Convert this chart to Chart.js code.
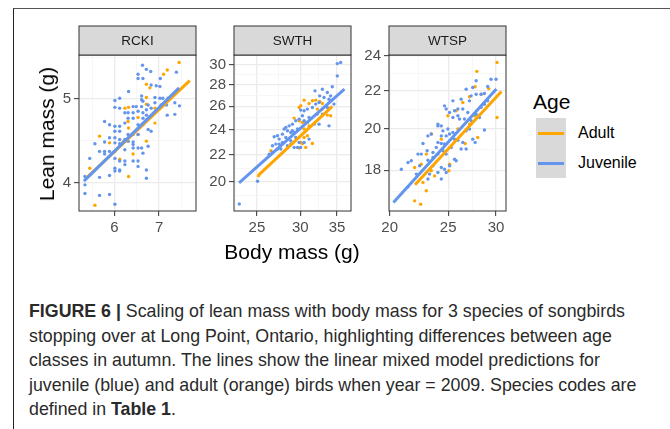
<!DOCTYPE html>
<html>
<head>
<meta charset="utf-8">
<script src="https://cdn.jsdelivr.net/npm/chart.js@4.4.1/dist/chart.umd.min.js"></script>
<style>
  body { margin: 0; background: #fff; font-family: "Liberation Sans", Arial, sans-serif; }
  #page { position: relative; width: 670px; height: 429px; overflow: hidden; }
  #frame { position: absolute; left: 13px; top: 8px; width: 700px; height: 460px;
           border-top: 1.5px solid #555; border-left: 1.5px solid #222; }
  canvas { position: absolute; top: 20px; }
  .lbl { position: absolute; white-space: nowrap; color: #000; }
  #ylab { left: 47px; top: 134px; font-size: 21px; transform: translate(-50%, -50%) rotate(-90deg); }
  #xlab { left: 292px; top: 252px; font-size: 21px; transform: translate(-50%, -50%); }
  #legTitle { left: 533px; top: 102px; font-size: 21px; transform: translateY(-50%); }
  .legItem { left: 578px; font-size: 16px; transform: translateY(-50%); }
  #legBox { position: absolute; left: 536px; top: 118px; width: 30px; height: 60px; background: #d9d9d9; }
  .legLine { position: absolute; left: 538px; width: 26px; height: 3px; }
  #caption { position: absolute; left: 29px; top: 299px; font-size: 17.8px; line-height: 24.5px;
             color: #2a2a2a; white-space: nowrap; }
</style>
</head>
<body>
<div id="page">
  <div id="frame"></div>
  <canvas id="c1" width="169" height="225" style="left:39px"></canvas>
  <canvas id="c2" width="169" height="225" style="left:194px"></canvas>
  <canvas id="c3" width="169" height="225" style="left:349px"></canvas>
  <div class="lbl" id="ylab">Lean mass (g)</div>
  <div class="lbl" id="xlab">Body mass (g)</div>
  <div class="lbl" id="legTitle">Age</div>
  <div id="legBox"></div>
  <div class="legLine" style="top:131.5px;background:#FFA500"></div>
  <div class="legLine" style="top:161.5px;background:#6495ED"></div>
  <div class="lbl legItem" style="top:133px">Adult</div>
  <div class="lbl legItem" style="top:163px">Juvenile</div>
  <div id="caption"><b>FIGURE 6 |</b> Scaling of lean mass with body mass for 3 species of songbirds<br>stopping over at Long Point, Ontario, highlighting differences between age<br>classes in autumn. The lines show the linear mixed model predictions for<br>juvenile (blue) and adult (orange) birds when year = 2009. Species codes are<br>defined in <b>Table 1</b>.</div>
</div>
<script>
// species panels
const species = ['RCKI', 'SWTH', 'WTSP'];

// RCKI: [body mass, lean mass]
const rckiJuvenile = [
  [6.61,5.47],[6.70,5.41],[6.80,5.38],[6.51,5.34],[6.51,5.28],[7.03,5.28],[7.43,5.37],[6.62,5.28],
  [6.81,5.19],[6.93,5.18],[7.02,5.17],[6.30,5.10],[6.11,5.01],[6.01,4.98],[6.59,5.04],[6.59,4.99],
  [6.62,4.97],[6.90,5.02],[7.02,5.01],[7.09,5.01],[7.22,5.01],[6.74,4.92],[6.90,4.95],[6.01,4.89],
  [6.11,4.88],[6.40,4.90],[6.47,4.90],[6.59,4.90],[6.70,4.86],[6.81,4.88],[7.05,4.92],[7.18,4.92],
  [7.39,4.95],[7.51,4.91],[7.39,4.80],[7.20,4.79],[6.51,4.84],[6.40,4.82],[6.29,4.82],[6.22,4.82],
  [6.62,4.82],[6.70,4.79],[6.78,4.77],[6.40,4.75],[6.29,4.75],[6.62,4.75],[6.70,4.73],[5.80,4.71],
  [5.90,4.67],[6.01,4.65],[6.11,4.65],[6.22,4.69],[6.51,4.67],[6.62,4.67],[6.01,4.59],[6.11,4.59],
  [6.29,4.55],[6.40,4.55],[6.51,4.55],[6.74,4.61],[6.81,4.59],[5.90,4.51],[6.01,4.51],[6.11,4.49],
  [6.22,4.49],[6.29,4.47],[6.40,4.46],[5.80,4.46],[6.01,4.45],[6.11,4.44],[5.61,4.44],[5.70,4.35],
  [5.80,4.35],[5.90,4.35],[6.01,4.35],[5.80,4.32],[6.22,4.37],[6.40,4.43],[6.40,4.39],[6.51,4.39],
  [6.59,4.39],[6.62,4.33],[6.74,4.41],[5.51,4.27],[6.01,4.27],[6.11,4.24],[6.22,4.24],[6.40,4.24],
  [6.51,4.24],[6.22,4.20],[6.51,4.18],[6.01,4.16],[6.11,4.14],[6.01,4.13],[6.11,4.13],[6.70,4.14],
  [5.70,4.06],[5.90,4.08],[5.42,4.07],[6.70,4.05],[5.42,3.98],[5.42,3.89],[5.70,3.87],[5.90,3.88],
  [6.01,3.78]
];
const rckiAdult = [
  [7.50,5.51],[7.20,5.40],[7.11,5.34],[6.70,5.20],[6.78,5.15],[6.70,5.02],[6.70,4.93],[6.30,4.89],
  [6.22,4.88],[6.90,4.88],[6.51,4.76],[6.29,4.71],[6.30,4.63],[6.90,4.69],[5.70,4.53],[6.51,4.55],
  [6.70,4.47],[6.29,4.47],[6.18,4.46],[5.90,4.45],[6.40,4.32],[6.11,4.26],[5.51,4.16],[6.30,4.07],
  [5.61,3.77]
];
const rckiJuvenileFit = [[5.40,4.02],[7.50,5.15]];
const rckiAdultFit = [[5.46,4.06],[7.78,5.25]];

// SWTH
const swthJuvenile = [
  [35.04,30.15],[35.53,30.26],[35.04,28.89],[34.31,27.82],[31.91,27.43],[32.91,27.59],[33.60,27.28],
  [32.54,26.96],[33.14,26.81],[34.07,26.96],[33.84,26.65],[34.55,26.20],[32.00,26.20],[31.56,25.90],
  [30.90,25.75],[30.48,25.60],[30.05,25.66],[30.26,25.16],[29.85,24.87],[29.43,24.73],[30.48,24.73],
  [30.90,24.59],[31.78,24.44],[32.45,24.44],[33.84,24.30],[32.22,25.31],[32.91,25.31],[29.02,24.44],
  [28.62,24.30],[28.23,24.17],[28.03,24.03],[28.42,23.89],[28.82,23.75],[29.23,23.75],[27.83,23.61],
  [27.26,23.48],[26.88,23.40],[27.45,23.21],[29.43,23.34],[29.85,22.94],[30.48,22.94],[31.12,23.21],
  [28.82,23.07],[28.82,22.81],[28.42,22.68],[29.23,22.55],[29.64,22.55],[30.05,22.55],[27.07,22.81],
  [26.69,22.68],[27.26,22.42],[27.64,22.42],[26.32,22.03],[26.69,22.16],[25.07,20.05],[23.22,18.53],
  [29.02,23.89],[29.64,24.03],[28.23,23.34],[27.83,22.94],[27.45,22.81],[31.12,25.02],[33.60,25.90],
  [32.45,26.35]
];
const swthAdult = [
  [30.48,26.56],[31.12,26.26],[31.56,26.50],[32.00,26.56],[32.54,26.44],[32.91,26.26],[30.05,26.05],
  [29.85,25.90],[29.23,24.96],[29.85,24.73],[30.26,24.59],[30.69,24.59],[31.12,24.30],[30.48,24.03],
  [30.90,23.48],[30.48,23.34],[30.05,22.94],[30.26,22.86],[31.56,22.86],[30.69,22.55],[29.85,22.50],
  [33.60,25.22],[34.07,25.16],[26.51,22.29],[25.17,20.44],[32.91,25.75],[32.22,25.75]
];
const swthJuvenileFit = [[23.2,19.95],[36.1,27.6]];
const swthAdultFit = [[25.2,20.5],[34.3,26.0]];

// WTSP
const wtspJuvenile = [
  [29.43,22.64],[30.00,22.64],[27.81,22.55],[29.06,22.23],[26.77,22.08],[27.45,22.17],[27.81,21.80],
  [28.34,21.80],[28.70,21.84],[27.28,21.71],[26.26,21.53],[27.11,21.44],[25.45,21.44],[24.65,21.17],
  [24.81,21.00],[25.13,20.82],[25.61,20.91],[25.94,21.00],[26.43,21.00],[26.94,20.82],[25.94,20.65],
  [25.45,20.56],[26.10,20.48],[24.04,20.22],[24.04,20.13],[24.35,20.13],[24.50,19.88],[24.97,19.97],
  [23.44,19.72],[23.14,19.63],[24.35,19.63],[24.81,19.63],[25.13,19.72],[25.45,19.80],[22.71,19.26],
  [24.04,19.31],[24.35,19.26],[24.65,19.23],[25.61,19.47],[25.94,19.42],[26.43,19.31],[27.45,19.47],
  [27.70,19.31],[28.70,19.92],[27.81,20.73],[28.16,20.56],[27.11,19.97],[26.77,18.99],[22.28,18.75],
  [22.56,18.75],[23.07,18.91],[21.45,18.36],[21.72,18.44],[20.91,18.05],[22.42,18.21],[23.14,18.46],
  [23.59,18.59],[24.04,18.75],[24.50,18.91],[24.81,18.75],[25.61,18.51],[25.77,18.44],[25.13,18.21],
  [24.35,18.13],[24.65,18.05],[24.81,17.90],[23.29,17.83],[23.14,17.61],[24.04,17.90],[24.35,17.61],
  [23.59,18.21],[22.14,17.83],[21.45,17.27],[23.89,19.07],[23.59,18.83],[25.29,19.07],[26.26,18.99],
  [26.77,19.88],[27.28,20.39],[26.60,20.48],[28.34,21.09],[28.70,21.26],[29.06,21.44]
];
const wtspAdult = [
  [27.88,23.09],[30.11,23.61],[27.70,22.21],[29.17,22.11],[27.11,21.66],[28.34,21.80],[26.43,21.35],
  [25.77,20.91],[24.97,20.65],[27.63,20.65],[27.11,20.22],[25.94,19.97],[23.44,19.72],[24.35,19.47],
  [26.67,19.26],[27.98,19.55],[23.00,18.75],[22.56,18.28],[22.00,18.13],[23.44,17.98],[22.71,17.46],
  [23.00,17.10],[22.00,16.67],[22.51,16.53],[30.11,20.56],[25.06,17.98],[25.13,18.28],[23.73,17.75]
];
const wtspJuvenileFit = [[20.29,16.60],[30.04,22.09]];
const wtspAdultFit = [[22.03,17.36],[30.62,21.95]];

// tick labels
const rckiXTicks = [6, 7];
const rckiYTicks = [4, 5];
const swthXTicks = [25, 30, 35];
const swthYTicks = [20, 22, 24, 26, 28, 30];
const wtspXTicks = [20, 25, 30];
const wtspYTicks = [18, 20, 22, 24];

const BLUE = '#6495ED', ORANGE = '#FFA500';

// major ticks plus ggplot-style minor breaks (midpoints on the log scale)
function withMinor(majors, min, max) {
  const lg = majors.map(Math.log);
  const n = lg.length;
  const ext = [2 * lg[0] - lg[1]].concat(lg, [2 * lg[n - 1] - lg[n - 2]]);
  const all = majors.slice();
  for (let i = 0; i < ext.length - 1; i++) {
    const m = Math.exp((ext[i] + ext[i + 1]) / 2);
    if (m > min && m < max) all.push(m);
  }
  return all.sort((a, b) => a - b);
}

function pts(arr) { return arr.map(p => ({ x: p[0], y: p[1] })); }

function axis(majors, min, max, horizontal) {
  const isMajor = v => majors.includes(v);
  return {
    type: 'logarithmic', min: min, max: max, bounds: 'data',
    afterBuildTicks: s => { s.ticks = withMinor(majors, min, max).map(v => ({ value: v })); },
    afterFit: s => {
      if (horizontal) s.height = 30; else s.width = 40;
      s.paddingLeft = 0; s.paddingRight = 0; s.paddingTop = 0; s.paddingBottom = 0;
    },
    ticks: {
      autoSkip: false, maxRotation: 0, padding: horizontal ? 3 : 3,
      color: '#4d4d4d', font: { family: '"Liberation Sans", Arial, sans-serif', size: 15 },
      callback: v => isMajor(v) ? String(v) : ''
    },
    grid: {
      color: c => isMajor(c.tick.value) ? '#ebebeb' : '#f4f4f4',
      lineWidth: c => isMajor(c.tick.value) ? 1.3 : 0.7,
      tickLength: 5,
      tickColor: c => isMajor(c.tick.value) ? '#333333' : 'rgba(0,0,0,0)',
      tickWidth: 1
    },
    border: { display: false }
  };
}

const facetPlugin = {
  id: 'facet',
  afterDraw(chart) {
    const a = chart.chartArea, ctx = chart.ctx;
    ctx.save();
    ctx.strokeStyle = '#333333';
    ctx.lineWidth = 1;
    ctx.strokeRect(a.left, a.top, a.right - a.left, a.bottom - a.top);
    ctx.fillStyle = '#d9d9d9';
    ctx.fillRect(a.left, a.top - 29, a.right - a.left, 29);
    ctx.strokeRect(a.left, a.top - 29, a.right - a.left, 29);
    ctx.fillStyle = '#1a1a1a';
    ctx.font = '13.5px "Liberation Sans", Arial, sans-serif';
    ctx.textAlign = 'center';
    ctx.textBaseline = 'middle';
    ctx.fillText(chart.options.plugins.facet.label, (a.left + a.right) / 2, a.top - 14);
    ctx.restore();
  }
};

function panel(id, label, juv, adult, juvFit, adultFit, xTicks, yTicks, xr, yr) {
  new Chart(document.getElementById(id), {
    type: 'scatter',
    data: {
      datasets: [
        { data: pts(juvFit), showLine: true, borderColor: BLUE, borderWidth: 3, pointRadius: 0, order: 0 },
        { data: pts(adultFit), showLine: true, borderColor: ORANGE, borderWidth: 3, pointRadius: 0, order: 1 },
        { data: pts(juv), backgroundColor: BLUE, borderWidth: 0, pointRadius: 1.7, order: 2 },
        { data: pts(adult), backgroundColor: ORANGE, borderWidth: 0, pointRadius: 1.7, order: 3 }
      ]
    },
    options: {
      responsive: false,
      animation: false,
      events: [],
      layout: { padding: { top: 35, right: 12, bottom: 4, left: 0 } },
      scales: {
        x: axis(xTicks, xr[0], xr[1], true),
        y: axis(yTicks, yr[0], yr[1], false)
      },
      plugins: { legend: { display: false }, tooltip: { enabled: false }, facet: { label: label } }
    },
    plugins: [facetPlugin]
  });
}

panel('c1', species[0], rckiJuvenile, rckiAdult, rckiJuvenileFit, rckiAdultFit,
      rckiXTicks, rckiYTicks, [5.31, 7.95], [3.713, 5.62]);
panel('c2', species[1], swthJuvenile, swthAdult, swthJuvenileFit, swthAdultFit,
      swthXTicks, swthYTicks, [22.71, 37.11], [18.09, 31.06]);
panel('c3', species[2], wtspJuvenile, wtspAdult, wtspJuvenileFit, wtspAdultFit,
      wtspXTicks, wtspYTicks, [19.95, 31.16], [16.25, 24.06]);
</script>
</body>
</html>
